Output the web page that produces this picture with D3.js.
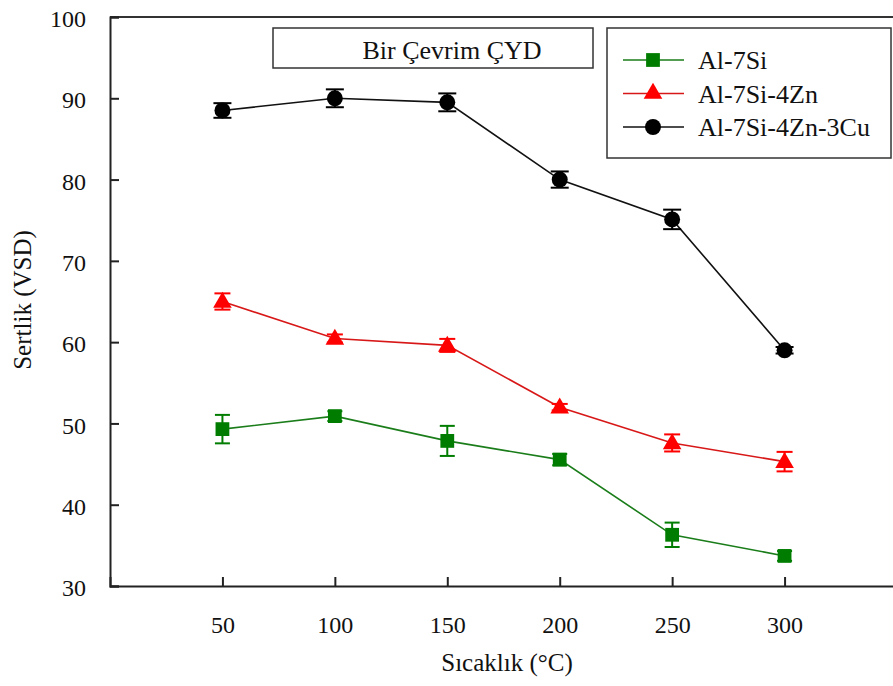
<!DOCTYPE html>
<html><head><meta charset="utf-8">
<script src="https://cdn.jsdelivr.net/npm/d3@7/dist/d3.min.js"></script>
<style>body{margin:0;background:#fff}svg{display:block}</style>
</head><body><svg id="c" width="893" height="686"></svg>
<script>
const temps = [50, 100, 150, 200, 250, 300];
const seriesNames = ["Al-7Si", "Al-7Si-4Zn", "Al-7Si-4Zn-3Cu"];
const al7si      = [49.3, 50.9, 47.85, 45.55, 36.3, 33.7];
const al7siErr   = [1.75, 0.6, 1.85, 0.7, 1.5, 0.6];
const al7si4zn   = [65.0, 60.45, 59.6, 52.0, 47.6, 45.3];
const al7si4znErr= [1.0, 0.5, 0.8, 0.4, 1.05, 1.2];
const al7si4zn3cu= [88.5, 90.0, 89.5, 80.0, 75.1, 59.0];
const al7si4zn3cuErr=[0.9, 1.1, 1.1, 1.0, 1.2, 0.4];
const xTicks = [50, 100, 150, 200, 250, 300];
const yTicks = [30, 40, 50, 60, 70, 80, 90, 100];
const titleText = "Bir Çevrim ÇYD";
const xLabel = "Sıcaklık (°C)";
const yLabel = "Sertlik (VSD)";

const FONT = "Liberation Serif";
const svg = d3.select("#c");
const x = d3.scaleLinear().domain([0, 350]).range([110, 897]);
const y = d3.scaleLinear().domain([30, 100]).range([586, 17]);
function serif(sel){ return sel.attr("font-family", FONT).style("font-family", FONT, "important"); }

const series = [
  {name: seriesNames[0], v: al7si, e: al7siErr, color: "#007d00", line: "#1a7d1a", sym: d3.symbolSquare, size: 190, cap: 15},
  {name: seriesNames[1], v: al7si4zn, e: al7si4znErr, color: "#ff0000", line: "#d81818", sym: d3.symbolTriangle, size: 150, cap: 16},
  {name: seriesNames[2], v: al7si4zn3cu, e: al7si4zn3cuErr, color: "#000000", line: "#111", sym: d3.symbolCircle, size: 200, cap: 18}
];

svg.append("line").attr("x1",110).attr("x2",893).attr("y1",17).attr("y2",17).attr("stroke","#333").attr("stroke-width",2);

const yAxis = svg.append("g").attr("transform","translate(110,0)")
  .call(d3.axisLeft(y).tickValues(yTicks).tickSize(-9).tickPadding(24).tickFormat(d3.format("d")));
serif(yAxis);
yAxis.select(".domain").attr("stroke","#222").attr("stroke-width",2);
yAxis.selectAll(".tick line").attr("stroke","#222").attr("stroke-width",2);
serif(yAxis.selectAll(".tick text").attr("font-size",24).attr("fill","#111").attr("dy","0.4em"));

const xAxis = svg.append("g").attr("transform","translate(0,586)")
  .call(d3.axisBottom(x).tickValues(xTicks).tickSize(-9).tickPadding(30).tickFormat(d3.format("d")));
serif(xAxis);
xAxis.select(".domain").attr("stroke","#222").attr("stroke-width",2);
xAxis.selectAll(".tick line").attr("stroke","#222").attr("stroke-width",2);
serif(xAxis.selectAll(".tick text").attr("font-size",24).attr("fill","#111"));

serif(svg.append("text").attr("x",507).attr("y",671).attr("text-anchor","middle").attr("font-size",25).attr("fill","#111")).text(xLabel);
serif(svg.append("text").attr("transform","translate(31,300) rotate(-90)").attr("text-anchor","middle").attr("font-size",25).attr("fill","#111")).text(yLabel);

series.forEach(s => {
  const g = svg.append("g");
  const pts = temps.map((t,i)=>({t, v:s.v[i], e:s.e[i]}));
  g.append("path").datum(pts).attr("fill","none").attr("stroke",s.line).attr("stroke-width",1.6)
    .attr("d", d3.line().x(d=>x(d.t)).y(d=>y(d.v)));
  pts.forEach(d=>{
    const cx = x(d.t);
    g.append("line").attr("x1",cx).attr("x2",cx).attr("y1",y(d.v+d.e)).attr("y2",y(d.v-d.e)).attr("stroke",s.color).attr("stroke-width",2);
    [d.v+d.e, d.v-d.e].forEach(val=>{
      g.append("line").attr("x1",cx-s.cap/2).attr("x2",cx+s.cap/2).attr("y1",y(val)).attr("y2",y(val)).attr("stroke",s.color).attr("stroke-width",2);
    });
    g.append("path").attr("d", d3.symbol().type(s.sym).size(s.size)()).attr("transform",`translate(${cx},${y(d.v) + (s.sym===d3.symbolTriangle?1:0)})`).attr("fill",s.color);
  });
});

svg.append("rect").attr("x",273).attr("y",28).attr("width",320).attr("height",40).attr("fill","#fff").attr("stroke","#333").attr("stroke-width",1.5);
serif(svg.append("text").attr("x",452).attr("y",59).attr("text-anchor","middle").attr("font-size",26).attr("fill","#111")).text(titleText);

svg.append("rect").attr("x",607).attr("y",28).attr("width",284).attr("height",130).attr("fill","#fff").attr("stroke","#333").attr("stroke-width",1.5);
const rowsY = [60, 93.5, 127];
series.forEach((s,i)=>{
  const ly = rowsY[i];
  svg.append("line").attr("x1",623).attr("x2",684).attr("y1",ly).attr("y2",ly).attr("stroke",s.line).attr("stroke-width",1.6);
  svg.append("path").attr("d", d3.symbol().type(s.sym).size(s.size)()).attr("transform",`translate(653,${ly})`).attr("fill",s.color);
  serif(svg.append("text").attr("x",698).attr("y",ly+9).attr("font-size",26).attr("fill","#111")).text(s.name);
});
</script></body></html>
